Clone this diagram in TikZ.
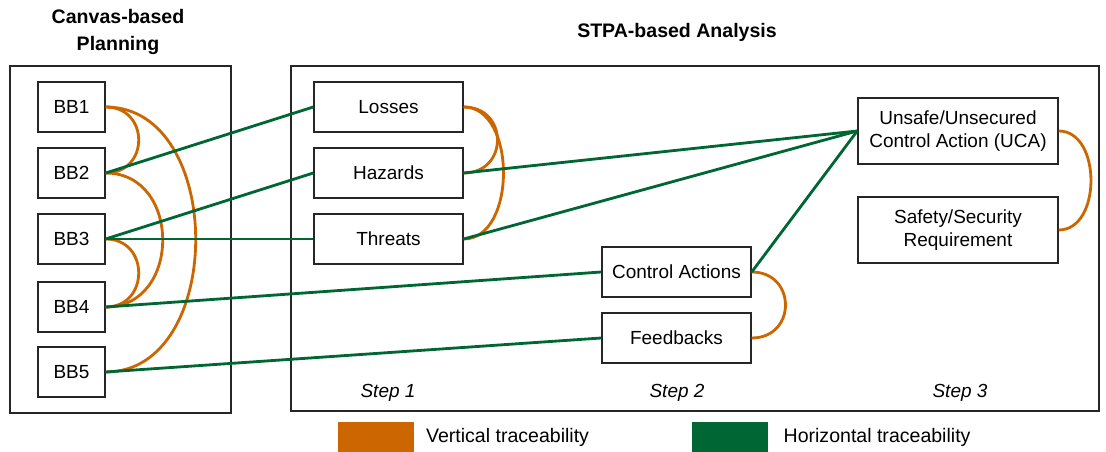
\documentclass[tikz,border=0pt]{standalone}
\usepackage{fontspec}
\setmainfont{Liberation Sans}
\usetikzlibrary{positioning}
\definecolor{traceVert}{HTML}{CC6600}
\definecolor{traceHor}{HTML}{006633}

\begin{document}
\begin{tikzpicture}[
        x=0.025cm, y=-0.025cm,
        every node/.style={font=\fontsize{13.5}{16}\selectfont},
        block/.style={draw=black!85, line width=1pt, fill=white, align=center, inner sep=0pt, minimum height=1.25cm},
        bb/.style={block, minimum width=1.675cm},
        stpa/.style={block, minimum width=3.725cm},
        req/.style={block, minimum width=5cm, minimum height=1.65cm},
        frame/.style={draw=black!85, line width=1pt},
        title/.style={font=\bfseries\fontsize{13.9}{18.5}\selectfont, align=center},
        steplbl/.style={font=\itshape\fontsize{13.5}{16}\selectfont},
        leglbl/.style={font=\fontsize{13.9}{16}\selectfont},
        vtrace/.style={draw=traceVert, line width=2pt},
        htrace/.style={draw=traceHor, line width=2pt},
        legbox/.style={minimum width=1.9cm, minimum height=0.725cm, inner sep=0pt}
    ]
        \useasboundingbox (0,0) rectangle (1106,452);

        % --- CANVAS-BASED PLANNING ---
        \node[title] (canvastitle) at (118,32) {Canvas-based\\Planning};
        \draw[frame] (10,66) rectangle (231,413);

        \node[bb] (bb1) at (71.5,107) {BB1};
        \node[bb] (bb2) at (71.5,173) {BB2};
        \node[bb] (bb3) at (71.5,239) {BB3};
        \node[bb] (bb4) at (71.5,307) {BB4};
        \node[bb] (bb5) at (71.5,372) {BB5};

        % --- STPA-BASED ANALYSIS ---
        \node[title] (stpatitle) at (677,32) {STPA-based Analysis};
        \draw[frame] (291,66) rectangle (1099,411);

        % Step 1
        \node[stpa] (losses) at (388.5,107) {Losses};
        \node[stpa] (hazards) at (388.5,173) {Hazards};
        \node[stpa] (threats) at (388.5,239) {Threats};

        % Step 2
        \node[stpa] (ctrlact) at (676.5,272) {Control Actions};
        \node[stpa] (feedback) at (676.5,338) {Feedbacks};

        % Step 3
        \node[req] (uca) at (958,131) {Unsafe/Unsecured\\Control Action (UCA)};
        \node[req] (safereq) at (958,230) {Safety/Security\\Requirement};

        \node[steplbl] (step1) at (388,393) {Step 1};
        \node[steplbl] (step2) at (677,393) {Step 2};
        \node[steplbl] (step3) at (960,393) {Step 3};

        % Vertical traceability
        \draw[vtrace] (bb1.east) .. controls +(44,0) and +(44,0) .. (bb2.east);
        \draw[vtrace] (bb2.east) .. controls +(76,0) and +(76,0) .. (bb4.east);
        \draw[vtrace] (bb3.east) .. controls +(44,0) and +(44,0) .. (bb4.east);
        \draw[vtrace] (bb1.east) .. controls +(120,0) and +(120,0) .. (bb5.east);
        \draw[vtrace] (losses.east) .. controls +(45,0) and +(45,0) .. (hazards.east);
        \draw[vtrace] (losses.east) .. controls +(53,0) and +(53,0) .. (threats.east);
        \draw[vtrace] (ctrlact.east) .. controls +(45,0) and +(45,0) .. (feedback.east);
        \draw[vtrace] (uca.east) .. controls +(43,0) and +(43,0) .. (safereq.east);

        % Horizontal traceability
        \draw[htrace] (bb2.east) -- (losses.west);
        \draw[htrace] (bb3.east) -- (hazards.west);
        \draw[htrace] (bb3.east) -- (threats.west);
        \draw[htrace] (bb4.east) -- (ctrlact.west);
        \draw[htrace] (bb5.east) -- (feedback.west);
        \draw[htrace] (hazards.east) -- (uca.west);
        \draw[htrace] (threats.east) -- (uca.west);
        \draw[htrace] (ctrlact.east) -- (uca.west);

        % --- LEGEND ---
        \node[legbox, fill=traceVert] (legvert) at (376,437) {};
        \node[leglbl, right=0.17cm of legvert] (legverttxt) {Vertical traceability};
        \node[legbox, fill=traceHor] (leghor) at (730,437) {};
        \node[leglbl, right=0.26cm of leghor] (leghortxt) {Horizontal traceability};
    \end{tikzpicture}
\end{document}
